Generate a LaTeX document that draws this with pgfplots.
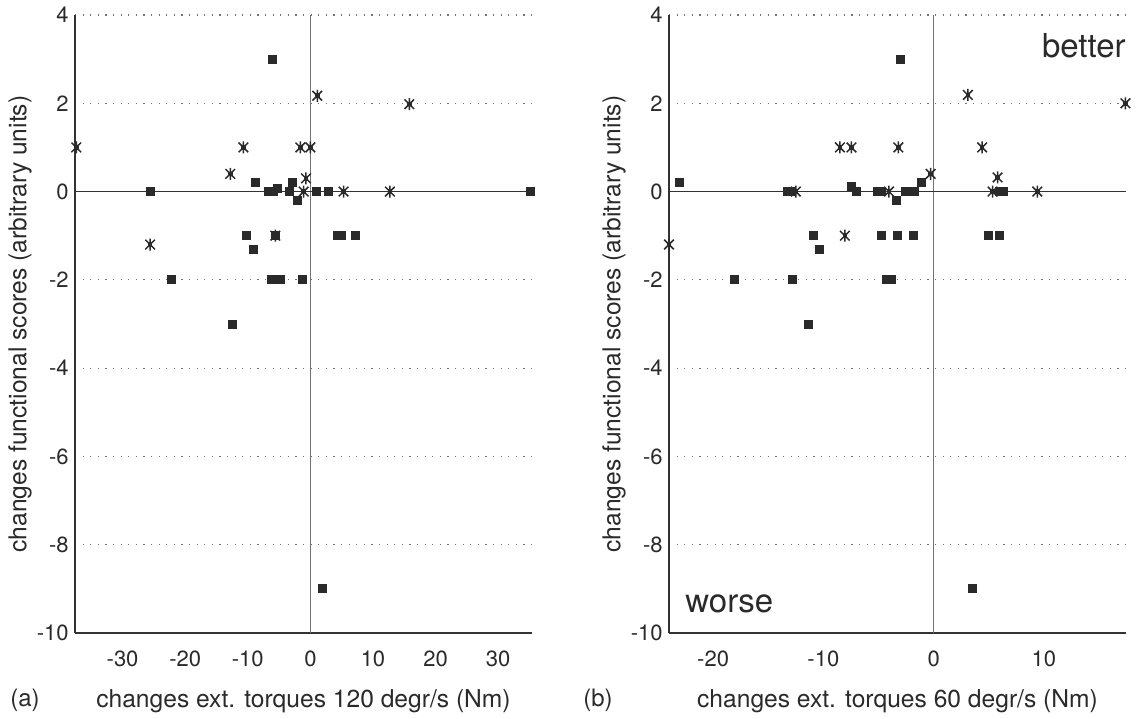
\documentclass[border=0pt]{standalone}
\usepackage{fontspec}
\setmainfont{TeX Gyre Heros}
\usepackage{pgfplots}
\pgfplotsset{compat=1.18}

\pgfdeclareplotmark{sast}{%
  \pgfpathmoveto{\pgfqpoint{0pt}{\pgfplotmarksize}}%
  \pgfpathlineto{\pgfqpoint{0pt}{-\pgfplotmarksize}}%
  \pgfpathmoveto{\pgfqpoint{-0.8\pgfplotmarksize}{0.8\pgfplotmarksize}}%
  \pgfpathlineto{\pgfqpoint{0.8\pgfplotmarksize}{-0.8\pgfplotmarksize}}%
  \pgfpathmoveto{\pgfqpoint{-0.8\pgfplotmarksize}{-0.8\pgfplotmarksize}}%
  \pgfpathlineto{\pgfqpoint{0.8\pgfplotmarksize}{0.8\pgfplotmarksize}}%
  \pgfusepathqstroke
  \pgfpathrectangle{\pgfqpoint{-0.38\pgfplotmarksize}{-0.38\pgfplotmarksize}}{\pgfqpoint{0.76\pgfplotmarksize}{0.76\pgfplotmarksize}}%
  \pgfusepathqfill
}

\definecolor{ink}{HTML}{2A2A2A}

\pgfplotsset{
  myax/.style={
    scale only axis, width=228.5pt, height=309pt,
    ymin=-10, ymax=4, ytick={-10,-8,...,4},
    axis x line=bottom, axis y line=left,
    axis line style={-, draw=black!80, line width=0.7pt},
    major tick length=0pt,
    ymajorgrids, grid style={black!55, line width=0.55pt, dash pattern=on 0.6pt off 3.2pt},
    tick label style={font=\fontsize{11}{13}\selectfont, text=ink},
    /pgf/number format/assume math mode=true,
    xticklabel style={inner sep=0pt, yshift=-8.5pt, anchor=north},
    yticklabel style={inner sep=0pt, xshift=-3pt, anchor=east},
    label style={font=\fontsize{12.3}{14}\selectfont, text=ink},
    xlabel style={at={(axis description cs:0.5,0)}, anchor=north, inner sep=0pt, yshift=-28pt},
    ylabel style={at={(axis description cs:-0.12,0.5)}, anchor=center, inner sep=0pt},
    ylabel={changes functional scores (arbitrary units)},
    clip=false,
  },
  sq/.style={only marks, mark=square*, mark size=2.0pt, color=ink, mark options={draw=ink, fill=ink}},
  st/.style={only marks, mark=sast, mark size=3.0pt, color=ink, mark options={draw=ink, fill=ink, line width=0.75pt}},
}

\begin{document}
\begin{tikzpicture}
% ---------------- (a) ----------------
\begin{axis}[myax, name=L, at={(0pt,0pt)}, anchor=south west,
  xmin=-37.6, xmax=35.4, xtick={-30,-20,...,30},
  xlabel={changes ext. torques 120 degr/s (Nm)}]
  \draw[black!55, line width=0.6pt] (axis cs:0,-10) -- (axis cs:0,4);
  \draw[black!80, line width=0.8pt] (axis cs:-37.6,0) -- (axis cs:35.4,0);
  \addplot[sq] coordinates {
    (-6.0,3) (-25.6,0) (-8.8,0.2) (-6.7,0) (-5.9,0) (-5.2,0.08) (-3.3,0)
    (-2.95,0.2) (-2.0,-0.2) (0.9,0) (2.9,0) (35.2,0)
    (-10.2,-1) (-9.1,-1.3) (-5.6,-1) (4.3,-1) (4.9,-1) (7.2,-1)
    (-22.2,-2) (-6.25,-2) (-4.8,-2) (-1.2,-2) (-12.5,-3) (1.9,-9)
  };
  \addplot[st] coordinates {
    (-37.4,1) (1.1,2.17) (15.8,1.98) (-10.7,1) (-12.8,0.4) (-1.6,1) (0,1)
    (-0.7,0.3) (-1.07,0) (5.3,0) (12.7,0) (-25.6,-1.2) (-5.6,-1)
  };
  \node[anchor=north, inner sep=0pt, xshift=-25pt, yshift=-28pt,
        font=\fontsize{12}{14}\selectfont, text=ink] at (axis description cs:0,0) {(a)};
\end{axis}
% ---------------- (b) ----------------
\begin{axis}[myax, name=R, at={(297pt,0pt)}, anchor=south west,
  xmin=-24.0, xmax=17.45, xtick={-20,-10,0,10},
  xlabel={changes ext. torques 60 degr/s (Nm)}]
  \draw[black!55, line width=0.6pt] (axis cs:0,-10) -- (axis cs:0,4);
  \draw[black!80, line width=0.8pt] (axis cs:-24.0,0) -- (axis cs:17.45,0);
  \addplot[sq] coordinates {
    (-3.0,3) (-23.1,0.2) (-13.3,0) (-13.0,0) (-7.5,0.12) (-7.0,0)
    (-5.1,0) (-4.7,0) (-3.35,-0.19) (-2.6,0) (-1.7,0) (-1.1,0.21)
    (5.95,0) (6.35,0)
    (-10.9,-1) (-10.4,-1.3) (-4.7,-1) (-3.3,-1) (-1.8,-1) (5.0,-1) (5.96,-1)
    (-18.1,-2) (-12.8,-2) (-4.3,-2) (-3.8,-2) (-11.4,-3) (3.5,-9)
  };
  \addplot[st] coordinates {
    (-24.0,-1.2) (-8.5,1) (-7.45,1) (-3.2,1) (-0.27,0.4) (3.1,2.19)
    (4.4,1) (5.8,0.32) (5.35,0) (9.4,0) (17.4,2) (-8.05,-1) (-12.5,0) (-4.05,0)
  };
  \node[anchor=base east, inner sep=0pt, yshift=-21.5pt,
        font=\fontsize{16.5}{18}\selectfont, text=ink] at (axis description cs:1,1) {better};
  \node[anchor=base west, inner sep=0pt, xshift=8pt, yshift=10.5pt,
        font=\fontsize{16.5}{18}\selectfont, text=ink] at (axis description cs:0,0) {worse};
  \node[anchor=north, inner sep=0pt, xshift=-35.5pt, yshift=-28pt,
        font=\fontsize{12}{14}\selectfont, text=ink] at (axis description cs:0,0) {(b)};
\end{axis}
\pgfresetboundingbox
\path (-37.5pt,-42.5pt) rectangle (532pt,316.5pt);
\end{tikzpicture}
\end{document}
